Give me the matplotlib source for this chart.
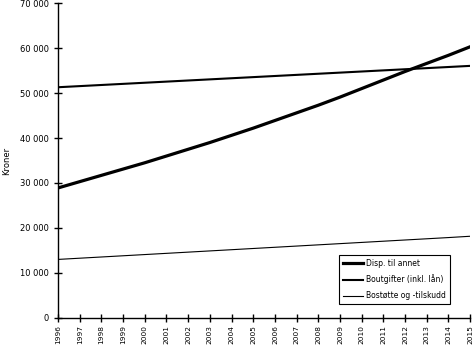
import matplotlib
matplotlib.use("Agg")
import matplotlib.pyplot as plt
from matplotlib.ticker import FuncFormatter

years = list(range(1996, 2016))
disp = [28900, 30300, 31700, 33100, 34500, 36000, 37500, 39000, 40600, 42200,
        43900, 45600, 47300, 49100, 51000, 52900, 54800, 56600, 58400, 60300]
boutgifter = [51300, 51550, 51800, 52050, 52300, 52550, 52800, 53050, 53300, 53550,
              53800, 54050, 54300, 54550, 54800, 55050, 55300, 55550, 55800, 56050]
bostotte = [13000, 13270, 13540, 13810, 14080, 14350, 14620, 14890, 15160, 15430,
            15700, 15970, 16240, 16510, 16780, 17050, 17320, 17590, 17860, 18150]
labels = ["Disp. til annet", "Boutgifter (inkl. lån)", "Bostøtte og -tilskudd"]

fig = plt.figure(figsize=(4.72, 3.52), dpi=100)
ax = fig.add_axes([0.123, 0.097, 0.873, 0.894])

ax.plot(years, disp, color="black", lw=2.3, label=labels[0])
ax.plot(years, boutgifter, color="black", lw=1.5, label=labels[1])
ax.plot(years, bostotte, color="black", lw=0.8, label=labels[2])

ax.set_xlim(1996, 2015)
ax.set_ylim(0, 70000)
ax.set_xticks(years)
ax.set_xticklabels([str(y) for y in years], rotation=90, fontsize=5.3)
ax.set_yticks(range(0, 70001, 10000))
ax.yaxis.set_major_formatter(FuncFormatter(lambda v, p: f"{int(v):,}".replace(",", " ")))
ax.tick_params(axis="y", labelsize=6, direction="inout", length=6, width=1)
ax.tick_params(axis="x", direction="inout", length=6, width=1, pad=2)
ax.set_ylabel("Kroner", fontsize=6)
ax.yaxis.set_label_coords(-0.115, 0.5)

for s in ["top", "right"]:
    ax.spines[s].set_visible(False)
for s in ["left", "bottom"]:
    ax.spines[s].set_linewidth(1)

leg = ax.legend(loc="lower right", bbox_to_anchor=(0.951, 0.044), fontsize=5.5,
                frameon=True, fancybox=False, edgecolor="black", framealpha=1,
                handlelength=2.6, handletextpad=0.4, borderpad=0.5, labelspacing=0.9,
                borderaxespad=0)
leg.get_frame().set_linewidth(0.8)

fig.savefig("out.png", dpi=100)
